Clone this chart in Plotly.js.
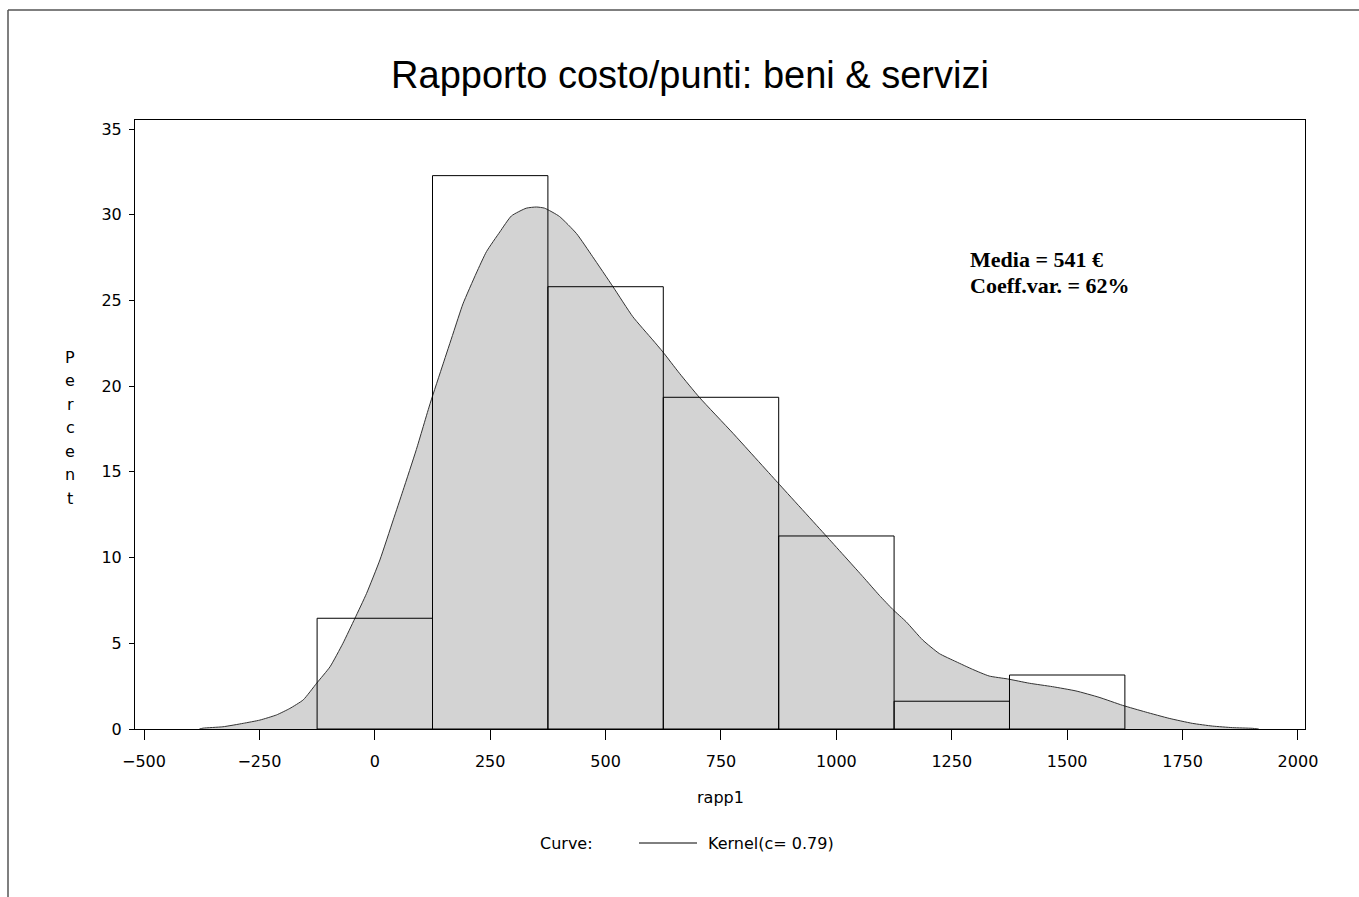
<!DOCTYPE html>
<html>
<head>
<meta charset="utf-8">
<script src="https://cdn.plot.ly/plotly-3.0.1.min.js"></script>
<style>
  html, body { margin: 0; padding: 0; background: #ffffff; }
  #chart { width: 1359px; height: 897px; }
</style>
</head>
<body>
<div id="chart"></div>
<script>
// ---- Data ----
const chartTitle = "Rapporto costo/punti: beni & servizi";
const xTitle = "rapp1";
const yTitle = "Percent";
const legendLabel = "Curve:";
const curveName = "Kernel(c= 0.79)";
const statsText = ["Media = 541 €", "Coeff.var. = 62%"];

// Histogram bins (midpoints, width 250) and percent heights
const binMid = [0, 250, 500, 750, 1000, 1250, 1500];
const binPct = [6.46, 32.28, 25.8, 19.35, 11.26, 1.62, 3.15];
const binWidth = 250;

// Kernel density curve, in percent units
const kernelX = [-380, -372, -329, -285, -249, -213, -184, -155, -126, -97, -69, -43, -18, 11, 40, 61, 90, 120, 148, 170, 191, 220, 242, 271, 296, 328, 350, 368, 400, 437, 472, 516, 559, 602, 624, 660, 703, 776, 873, 978, 1057, 1093, 1122, 1151, 1187, 1223, 1259, 1295, 1331, 1371, 1418, 1468, 1519, 1569, 1620, 1670, 1721, 1771, 1815, 1858, 1901, 1915];
const kernelY = [0, 0.05, 0.13, 0.33, 0.52, 0.82, 1.2, 1.7, 2.67, 3.63, 5.0, 6.46, 7.9, 9.86, 12.2, 13.9, 16.3, 19.0, 21.3, 23.1, 24.8, 26.6, 27.85, 29.0, 29.93, 30.38, 30.45, 30.38, 29.9, 28.9, 27.55, 25.8, 24.05, 22.7, 22.0, 20.75, 19.35, 17.25, 14.37, 11.26, 8.9, 7.8, 6.98, 6.26, 5.19, 4.4, 3.93, 3.48, 3.09, 2.92, 2.67, 2.47, 2.22, 1.85, 1.38, 0.99, 0.62, 0.33, 0.17, 0.08, 0.04, 0];

const xTicks = [-500, -250, 0, 250, 500, 750, 1000, 1250, 1500, 1750, 2000];
const yTicks = [0, 5, 10, 15, 20, 25, 30, 35];

// ---- Layout helpers ----
const W = 1359, H = 897;
const M = {l: 135, r: 54, t: 120, b: 168};
const plotW = W - M.l - M.r, plotH = H - M.t - M.b;
const px2x = px => (px - M.l) / plotW;           // pixel -> paper x
const py2y = py => (H - M.b - py) / plotH;       // pixel -> paper y

const xRange = [-519.5, 2015.2];
const yRange = [0, 35.525];

const smallFont = {family: "DejaVu Sans, Verdana, sans-serif", size: 16, color: "#000"};
const statFont = {family: "Liberation Serif, Times New Roman, serif", size: 22, color: "#000"};

const traces = [
  {
    type: "scatter", mode: "lines",
    x: kernelX, y: kernelY,
    fill: "tozeroy", fillcolor: "#d3d3d3",
    line: {color: "#333333", width: 1, shape: "spline", smoothing: 0.5},
    name: curveName, showlegend: false, hoverinfo: "x+y",
    xaxis: "x", yaxis: "y"
  },
  {
    type: "bar",
    x: binMid, y: binPct, width: binWidth,
    marker: {color: "rgba(0,0,0,0)", line: {color: "#000", width: 1}},
    showlegend: false, name: "Percent",
    xaxis: "x2", yaxis: "y2"
  }
];

const annotations = [];
// stacked vertical y-axis title
const letters = yTitle.split("");
letters.forEach((ch, i) => {
  annotations.push({
    xref: "paper", yref: "paper",
    x: px2x(70), y: py2y(357 + i * 23.5),
    text: ch, showarrow: false, xanchor: "center", yanchor: "middle",
    font: smallFont
  });
});
// stats box
statsText.forEach((t, i) => {
  annotations.push({
    xref: "paper", yref: "paper",
    x: px2x(968), y: py2y(259 + i * 26),
    text: "<b>" + t + "</b>", showarrow: false,
    xanchor: "left", yanchor: "middle",
    font: statFont
  });
});
// legend row
annotations.push({
  xref: "paper", yref: "paper", x: px2x(538), y: py2y(843),
  text: legendLabel, showarrow: false, xanchor: "left", yanchor: "middle", font: smallFont
});
annotations.push({
  xref: "paper", yref: "paper", x: px2x(706), y: py2y(843),
  text: curveName, showarrow: false, xanchor: "left", yanchor: "middle", font: smallFont
});
// x axis title
annotations.push({
  xref: "paper", yref: "paper", x: 0.5, y: py2y(797),
  text: xTitle, showarrow: false, xanchor: "center", yanchor: "middle", font: smallFont
});

const shapes = [
  // legend line glyph
  {type: "line", xref: "paper", yref: "paper", x0: px2x(639), x1: px2x(697), y0: py2y(843), y1: py2y(843),
   line: {color: "#000", width: 1}},
  // outer frame (top + left)
  {type: "line", xref: "paper", yref: "paper", x0: px2x(8), x1: px2x(W), y0: py2y(10), y1: py2y(10),
   line: {color: "#555", width: 1.5}},
  {type: "line", xref: "paper", yref: "paper", x0: px2x(8), x1: px2x(8), y0: py2y(10), y1: py2y(H),
   line: {color: "#555", width: 1.5}}
];

const layout = {
  width: W, height: H,
  margin: M,
  paper_bgcolor: "#ffffff", plot_bgcolor: "#ffffff",
  showlegend: false,
  barmode: "overlay",
  title: {
    text: chartTitle,
    font: {family: "Liberation Sans, Arial, sans-serif", size: 38, color: "#000"},
    x: 690 / W, xref: "container", xanchor: "center",
    y: 1 - 75 / H, yref: "container", yanchor: "middle"
  },
  xaxis: {
    range: xRange,
    tickvals: xTicks,
    ticks: "outside", ticklen: 10, tickwidth: 1, tickcolor: "#000",
    showline: true, linecolor: "#000", linewidth: 1, mirror: true,
    showgrid: false, zeroline: false,
    tickfont: smallFont, ticklabelstandoff: 8
  },
  yaxis: {
    range: yRange,
    tickvals: yTicks,
    ticks: "outside", ticklen: 5, tickwidth: 1, tickcolor: "#000",
    showline: true, linecolor: "#000", linewidth: 1, mirror: true,
    showgrid: false, zeroline: false,
    tickfont: smallFont, ticklabelstandoff: 4
  },
  xaxis2: {
    overlaying: "x", matches: "x", range: xRange,
    showticklabels: false, ticks: "", showline: false, showgrid: false, zeroline: false
  },
  yaxis2: {
    overlaying: "y", matches: "y", range: yRange,
    showticklabels: false, ticks: "", showline: false, showgrid: false, zeroline: false
  },
  annotations: annotations,
  shapes: shapes
};

Plotly.newPlot("chart", traces, layout, {displayModeBar: false, staticPlot: true});
</script>
</body>
</html>
